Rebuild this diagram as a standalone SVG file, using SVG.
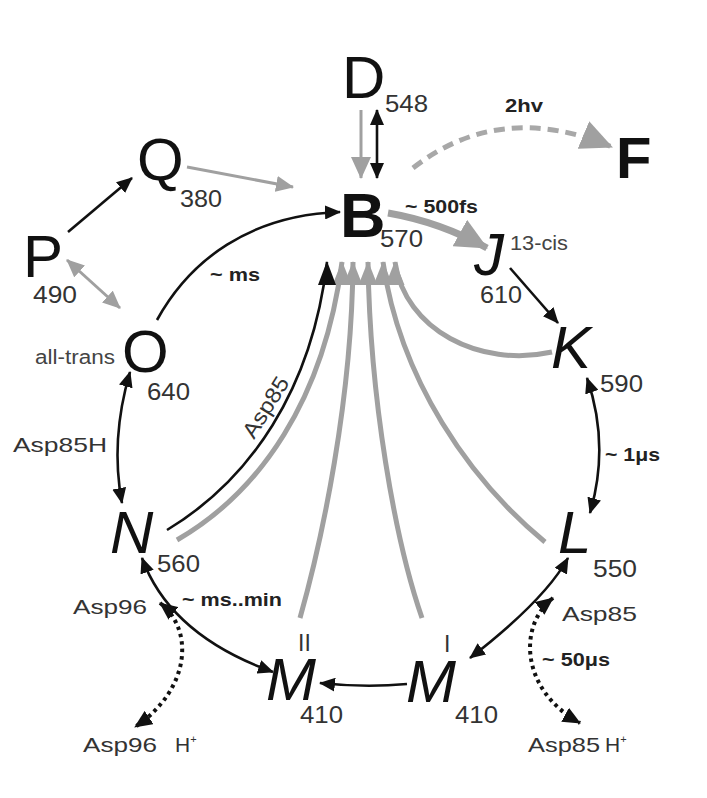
<svg xmlns="http://www.w3.org/2000/svg" width="707" height="798" viewBox="0 0 707 798">
  <style>
    .big { font-family: "Liberation Sans", Arial, sans-serif; font-size: 60px; fill: #111; }
    .bigb { font-family: "Liberation Sans", Arial, sans-serif; font-size: 63px; font-weight: bold; fill: #111; }
    .it { font-style: italic; }
    .num { font-family: "Liberation Sans", Arial, sans-serif; font-size: 23px; fill: #333; }
    .lab { font-family: "Liberation Sans", Arial, sans-serif; font-size: 21px; fill: #333; }
    .sm { font-family: "Liberation Sans", Arial, sans-serif; font-size: 20px; fill: #444; }
    .rate { font-family: "Liberation Sans", Arial, sans-serif; font-size: 19px; font-weight: bold; fill: #222; }
    .blk { fill: none; stroke: #111; stroke-width: 2.6; }
    .gry { fill: none; stroke: #a0a0a0; stroke-width: 3; }
    .gret { fill: none; stroke: #a0a0a0; stroke-width: 5; }
    .dot { fill: none; stroke: #111; stroke-width: 4; stroke-dasharray: 3.5 4; }
  </style>
  <defs>
    <marker id="ah" viewBox="0 0 16 14" refX="15" refY="7" markerWidth="16" markerHeight="14" markerUnits="userSpaceOnUse" orient="auto-start-reverse">
      <path d="M0,0 L16,7 L0,14 z" fill="#111"/>
    </marker>
    <marker id="ahd" viewBox="0 0 18 16" refX="17" refY="8" markerWidth="18" markerHeight="16" markerUnits="userSpaceOnUse" orient="auto-start-reverse">
      <path d="M0,0 L18,8 L0,16 z" fill="#111"/>
    </marker>
    <marker id="ahg" viewBox="0 0 18 16" refX="17" refY="8" markerWidth="18" markerHeight="16" markerUnits="userSpaceOnUse" orient="auto-start-reverse">
      <path d="M0,0 L18,8 L0,16 z" fill="#a0a0a0"/>
    </marker>
    <marker id="ahgL" viewBox="0 0 22 20" refX="21" refY="10" markerWidth="22" markerHeight="20" markerUnits="userSpaceOnUse" orient="auto">
      <path d="M0,0 L22,10 L0,20 z" fill="#a0a0a0"/>
    </marker>
    <marker id="ahgXL" viewBox="0 0 32 30" refX="31" refY="15" markerWidth="32" markerHeight="30" markerUnits="userSpaceOnUse" orient="auto">
      <path d="M0,0 L32,15 L0,30 z" fill="#a0a0a0"/>
    </marker>
    <!-- upright heads for the returns converging under B -->
    <marker id="upG" viewBox="0 0 24 19" refX="23" refY="9.5" markerWidth="24" markerHeight="19" markerUnits="userSpaceOnUse" orient="-90">
      <path d="M0,0 L24,9.5 L0,19 z" fill="#a0a0a0"/>
    </marker>
    <marker id="upK" viewBox="0 0 24 18" refX="23" refY="9" markerWidth="24" markerHeight="18" markerUnits="userSpaceOnUse" orient="-90">
      <path d="M0,0 L24,9 L0,18 z" fill="#111"/>
    </marker>
  </defs>

  <g id="connectors">
    <!-- thermal returns to B -->
    <path class="gret" d="M177,540 C 260,492 324,400 342,262" marker-end="url(#upG)"/>
    <path class="gret" d="M300,618 C 322,540 352,400 353,262" marker-end="url(#upG)"/>
    <path class="gret" d="M422,618 C 395,540 370,400 368,262" marker-end="url(#upG)"/>
    <path class="gret" d="M545,542 C 470,480 400,380 383,262" marker-end="url(#upG)"/>
    <path class="gret" d="M552,352 C 480,368 405,330 395,262" marker-end="url(#upG)"/>
    <path class="blk" d="M167,530 C 250,480 312,390 327,262" marker-end="url(#upK)"/>

    <!-- branch reactions -->
    <path class="gry" d="M361,110 L361,178" marker-end="url(#ahgL)"/>
    <path class="blk" d="M377,110 L377,178" marker-start="url(#ah)" marker-end="url(#ah)"/>
    <path class="gry" d="M187,167 L293,187" marker-end="url(#ahg)"/>
    <path class="blk" d="M68,232 L132,178" marker-end="url(#ah)"/>
    <path class="gry" d="M67,260 L120,308" marker-start="url(#ahg)" marker-end="url(#ahg)"/>
    <path d="M413,168 Q 500,100 612,147" fill="none" stroke="#a8a8a8" stroke-width="5" stroke-dasharray="11 7" marker-end="url(#ahgXL)"/>

    <!-- main cycle -->
    <path d="M388,213 Q 440,222 487,248" fill="none" stroke="#a0a0a0" stroke-width="7" marker-end="url(#ahgXL)"/>
    <path class="blk" d="M510,268 L558,323" marker-end="url(#ah)"/>
    <path class="blk" d="M587,378 Q 610,445 590,513" marker-start="url(#ah)" marker-end="url(#ah)"/>
    <path class="blk" d="M568,558 Q 545,600 470,658" marker-start="url(#ah)" marker-end="url(#ah)"/>
    <path class="blk" d="M407,684 Q 365,688 320,683" marker-end="url(#ah)"/>
    <path class="blk" d="M142,558 Q 170,635 273,672" marker-start="url(#ah)" marker-end="url(#ah)"/>
    <path class="blk" d="M130,372 Q 110,440 122,503" marker-start="url(#ah)" marker-end="url(#ah)"/>
    <path class="blk" d="M157,320 C 190,260 250,215 340,212" marker-end="url(#ah)"/>

    <!-- proton transfers -->
    <path class="dot" d="M160,603 C 195,630 190,690 135,727" marker-start="url(#ahd)" marker-end="url(#ahd)"/>
    <path class="dot" d="M553,598 C 518,625 520,690 580,723" marker-start="url(#ahd)" marker-end="url(#ahd)"/>
  </g>

  <g id="node-D"><text class="big" x="342" y="98">D</text><text class="num" x="385" y="112" textLength="43" lengthAdjust="spacingAndGlyphs">548</text></g>
  <g id="node-B"><text class="bigb" x="340" y="237">B</text><text class="num" x="380" y="247" textLength="43" lengthAdjust="spacingAndGlyphs">570</text></g>
  <g id="node-F"><text class="bigb" x="616" y="178" style="font-size:58px">F</text></g>
  <g id="node-Q"><text class="big" x="137" y="180">Q</text><text class="num" x="180" y="207" textLength="42" lengthAdjust="spacingAndGlyphs">380</text></g>
  <g id="node-P"><text class="big" x="23" y="277">P</text><text class="num" x="33" y="303" textLength="44" lengthAdjust="spacingAndGlyphs">490</text></g>
  <g id="node-O"><text class="big" x="122" y="372">O</text><text class="num" x="147" y="400" textLength="43" lengthAdjust="spacingAndGlyphs">640</text><text class="sm" x="35" y="364" textLength="80" lengthAdjust="spacingAndGlyphs">all-trans</text></g>
  <g id="node-J"><text class="big it" x="474" y="275">J</text><text class="sm" x="510" y="250" textLength="58" lengthAdjust="spacingAndGlyphs">13-cis</text><text class="num" x="480" y="303" textLength="42" lengthAdjust="spacingAndGlyphs">610</text></g>
  <g id="node-K"><text class="big it" x="551" y="368">K</text><text class="num" x="600" y="392" textLength="43" lengthAdjust="spacingAndGlyphs">590</text></g>
  <g id="node-L"><text class="big it" x="558" y="553">L</text><text class="num" x="593" y="577" textLength="44" lengthAdjust="spacingAndGlyphs">550</text></g>
  <g id="node-N"><text class="big it" x="110" y="553">N</text><text class="num" x="157" y="572" textLength="43" lengthAdjust="spacingAndGlyphs">560</text></g>
  <g id="node-MII"><text class="big it" x="266" y="700">M</text><text class="num" x="298" y="651">II</text><text class="num" x="300" y="723" textLength="43" lengthAdjust="spacingAndGlyphs">410</text></g>
  <g id="node-MI"><text class="big it" x="406" y="702">M</text><text class="num" x="444" y="652">I</text><text class="num" x="455" y="723" textLength="43" lengthAdjust="spacingAndGlyphs">410</text></g>

  <g id="labels">
    <text class="rate" x="505" y="112" textLength="38" lengthAdjust="spacingAndGlyphs">2hv</text>
    <text class="rate" x="405" y="213" textLength="73" lengthAdjust="spacingAndGlyphs">~ 500fs</text>
    <text class="rate" x="210" y="281" textLength="50" lengthAdjust="spacingAndGlyphs">~ ms</text>
    <text class="rate" x="605" y="461" textLength="55" lengthAdjust="spacingAndGlyphs">~ 1μs</text>
    <text class="rate" x="182" y="606" textLength="100" lengthAdjust="spacingAndGlyphs">~ ms..min</text>
    <text class="rate" x="542" y="666" textLength="68" lengthAdjust="spacingAndGlyphs">~ 50μs</text>
    <text class="lab" x="13" y="452" textLength="94" lengthAdjust="spacingAndGlyphs">Asp85H</text>
    <text class="lab" transform="translate(254,440) rotate(-58)" textLength="68" lengthAdjust="spacingAndGlyphs" style="font-size:22px">Asp85</text>
    <text class="lab" x="73" y="614" textLength="74" lengthAdjust="spacingAndGlyphs">Asp96</text>
    <text class="lab" x="562" y="621" textLength="75" lengthAdjust="spacingAndGlyphs">Asp85</text>
    <text class="lab" x="83" y="752"><tspan textLength="74" lengthAdjust="spacingAndGlyphs">Asp96</tspan><tspan x="175">H</tspan><tspan dy="-9" font-size="11">+</tspan></text>
    <text class="lab" x="528" y="752"><tspan textLength="72" lengthAdjust="spacingAndGlyphs">Asp85</tspan><tspan x="605">H</tspan><tspan dy="-9" font-size="11">+</tspan></text>
  </g>
</svg>
